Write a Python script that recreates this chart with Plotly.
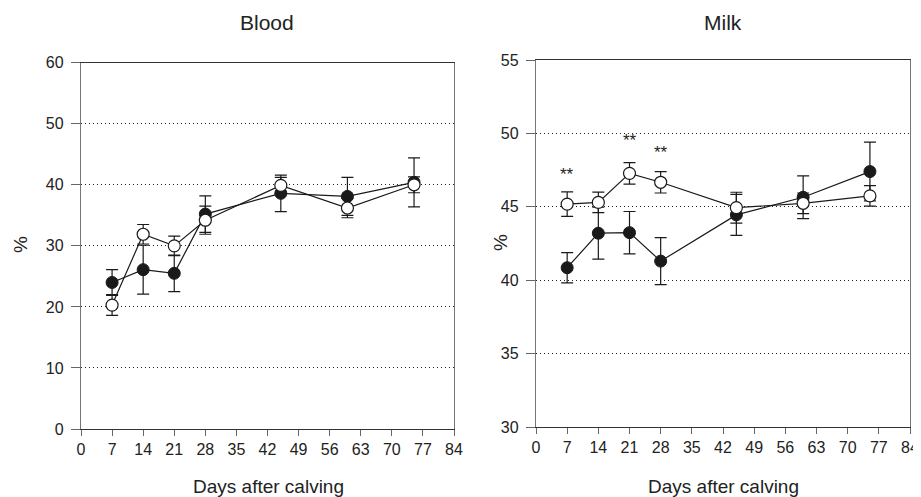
import plotly.graph_objects as go

# Blood
blood_days = [7, 14, 21, 28, 45, 60, 75]
blood_filled = [24.0, 26.1, 25.5, 35.2, 38.6, 38.1, 40.4]
blood_filled_err = [2.1, 4.0, 3.0, 3.0, 3.0, 3.1, 4.0]
blood_open = [20.3, 31.9, 30.0, 34.2, 39.9, 36.2, 40.0]
blood_open_err = [1.7, 1.6, 1.6, 2.3, 1.3, 1.6, 1.3]

# Milk
milk_days = [7, 14, 21, 28, 45, 60, 75]
milk_filled = [40.85, 43.2, 43.24, 41.3, 44.45, 45.65, 47.4]
milk_filled_err = [1.03, 1.77, 1.44, 1.6, 1.4, 1.45, 2.0]
milk_open = [45.18, 45.3, 47.28, 46.67, 44.94, 45.24, 45.74]
milk_open_err = [0.83, 0.7, 0.73, 0.73, 1.05, 0.7, 0.7]

sig_days = [7, 21, 28]
sig_y = [47.2, 49.5, 48.7]
sig_text = ["**", "**", "**"]

x_ticks = list(range(0, 85, 7))

W, H = 921, 497
OFF = 8  # page body margin
fig = go.Figure()

def add_pair(days, filled, ferr, opn, oerr, xa, ya):
    fig.add_trace(go.Scatter(
        x=days, y=filled, mode="lines+markers", xaxis=xa, yaxis=ya,
        line=dict(color="#1a1a1a", width=1.2),
        marker=dict(size=12, color="#1a1a1a", line=dict(color="#1a1a1a", width=1)),
        error_y=dict(type="data", array=ferr, visible=True, color="#1a1a1a",
                     thickness=1.2, width=6),
        showlegend=False))
    fig.add_trace(go.Scatter(
        x=days, y=opn, mode="lines+markers", xaxis=xa, yaxis=ya,
        line=dict(color="#1a1a1a", width=1.2),
        marker=dict(size=12, color="white", line=dict(color="#1a1a1a", width=1.2)),
        error_y=dict(type="data", array=oerr, visible=True, color="#1a1a1a",
                     thickness=1.2, width=6),
        showlegend=False))

add_pair(blood_days, blood_filled, blood_filled_err, blood_open, blood_open_err, "x", "y")
add_pair(milk_days, milk_filled, milk_filled_err, milk_open, milk_open_err, "x2", "y2")

FAM = "Liberation Sans, Arial, sans-serif"
TXT = "#222"

xcommon = dict(range=[0, 84], tickvals=x_ticks, ticks="outside", ticklen=6,
               tickcolor="#666", showline=True, linecolor="#333", linewidth=1.2,
               mirror=True, showgrid=False, zeroline=False, automargin=False,
               tickfont=dict(size=16, color=TXT, family=FAM))
ycommon = dict(ticks="outside", ticklen=9, tickcolor="#666", showline=True,
               linecolor="#777", linewidth=1.4, mirror=True, showgrid=True,
               gridcolor="#222", griddash="1px,3px", gridwidth=1, zeroline=False,
               automargin=False, ticklabelstandoff=4,
               tickfont=dict(size=16, color=TXT, family=FAM))

def px(xp):
    return (xp - OFF) / W

def py(yp):
    return 1 - (yp - OFF) / H

fig.update_layout(
    width=W, height=H,
    margin=dict(l=0, r=0, t=0, b=0),
    paper_bgcolor="white", plot_bgcolor="white",
    font=dict(family=FAM, size=16, color=TXT),
    xaxis=dict(domain=[px(81), px(454)], anchor="y", **xcommon),
    yaxis=dict(domain=[py(429), py(62.7)], anchor="x", range=[0, 60],
               tickvals=[0, 10, 20, 30, 40, 50, 60], **ycommon),
    xaxis2=dict(domain=[px(536), px(910)], anchor="y2", **xcommon),
    yaxis2=dict(domain=[py(427), py(60)], anchor="x2", range=[30, 55],
                tickvals=[30, 35, 40, 45, 50, 55], **ycommon),
)

for d, yv, t in zip(sig_days, sig_y, sig_text):
    fig.add_annotation(x=d, y=yv, xref="x2", yref="y2", text=t, showarrow=False,
                       xanchor="center", yanchor="middle",
                       font=dict(size=17, color=TXT, family=FAM))

def label(xp, yp, text, size, angle=0):
    fig.add_annotation(x=px(xp), y=py(yp), xref="paper", yref="paper",
                       xanchor="center", yanchor="middle", textangle=angle,
                       text=text, showarrow=False,
                       font=dict(size=size, color=TXT, family=FAM))

# panel titles
label(267, 23, "Blood", 21)
label(723, 23, "Milk", 21)
# x axis titles
label(268, 486, "Days after calving", 19)
label(723, 486, "Days after calving", 19)
# y axis titles
label(20, 245, "%", 19, -90)
label(500, 243, "%", 19, -90)

fig.write_html("out.html")
